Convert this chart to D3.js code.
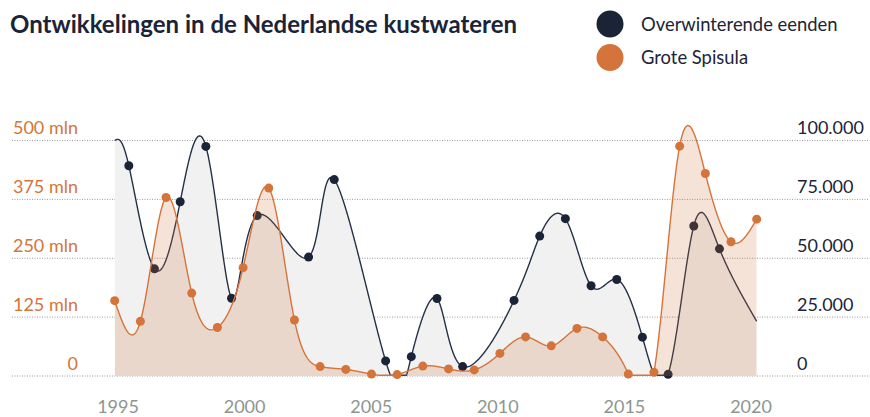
<!DOCTYPE html>
<html>
<head>
<meta charset="utf-8">
<script src="https://cdn.jsdelivr.net/npm/d3@7/dist/d3.min.js"></script>
<style>
  body { margin: 0; background: #fff; }
  svg { font-family: Lato, 'Open Sans', sans-serif; }
</style>
</head>
<body>
<svg id="chart" width="870" height="417"></svg>
<script>
// DATA
const titel = 'Ontwikkelingen in de Nederlandse kustwateren'
const reeksNamen = ['Overwinterende eenden', 'Grote Spisula']

// Grote Spisula, biomassa in miljoen (linker as)
const spisulaJaren = [1995, 1996, 1997, 1998, 1999, 2000, 2001, 2002, 2003, 2004, 2005, 2006, 2007,
  2008, 2009, 2010, 2011, 2012, 2013, 2014, 2015, 2016, 2017, 2018, 2019, 2020]
const spisulaMln = [160, 116, 379, 176, 103, 230, 399, 119, 20, 14, 4, 3, 21,
  15, 13, 48, 83, 64, 101, 83, 4, 8, 488, 430, 285, 333]

// Overwinterende eenden, aantallen per winter (rechter as); begin- en eindpunt zonder stip
const eendenJaren = [1995, 1995.55, 1996.55, 1997.55, 1998.55, 1999.55, 2000.55, 2002.55, 2003.55,
  2005.55, 2006.55, 2007.55, 2008.55, 2010.55, 2011.55, 2012.55, 2013.55, 2014.55, 2015.55,
  2016.55, 2017.55, 2018.55, 2020]
const eendenAantal = [100000, 89300, 45500, 74000, 97500, 33000, 68100, 50500, 83400,
  6400, 8200, 32900, 4000, 32100, 59400, 66800, 38300, 41000, 16500,
  700, 63700, 54000, 23200]

const linkerTicks = [0, 125, 250, 375, 500]
const rechterTicks = [0, 25000, 50000, 75000, 100000]
const jaarTicks = [1995, 2000, 2005, 2010, 2015, 2020]

const kleuren = { eenden: '#1b2437', spisula: '#d4743a' }

// SCALES
const x = d3.scaleLinear().domain([1995, 2020]).range([114.7, 756.7])
const xAs = d3.scaleLinear().domain([1995, 2020]).range([117.5, 750.5])
const yLinks = d3.scaleLinear().domain([0, 500]).range([376, 140.5])
const yRechts = d3.scaleLinear().domain([0, 100000]).range([376, 140.5])

const svg = d3.select('#chart')
const nl = d3.formatLocale({ decimal: ',', thousands: '.', grouping: [3], currency: ['€', ''] })
const fmtAantal = nl.format(',')

// GRIDLINES
svg.append('g')
  .selectAll('line')
  .data(linkerTicks)
  .join('line')
  .attr('x1', 12).attr('x2', 868)
  .attr('y1', d => yLinks(d)).attr('y2', d => yLinks(d))
  .attr('stroke', '#9a9a9a')
  .attr('stroke-width', 1)
  .attr('stroke-dasharray', '1,1.5')

// left axis labels
svg.append('g')
  .selectAll('text')
  .data(linkerTicks)
  .join('text')
  .attr('x', 78)
  .attr('y', d => yLinks(d) - 6.5)
  .attr('text-anchor', 'end')
  .attr('font-size', 18)
  .attr('fill', kleuren.spisula)
  .text(d => d === 0 ? '0' : d + ' mln')

// right axis labels
svg.append('g')
  .selectAll('text')
  .data(rechterTicks)
  .join('text')
  .attr('x', 797)
  .attr('y', d => yRechts(d) - 6.5)
  .attr('font-size', 18)
  .attr('fill', kleuren.eenden)
  .text(d => fmtAantal(d))

// bottom axis
const asOnder = svg.append('g')
  .attr('transform', 'translate(0,413)')
  .call(d3.axisBottom(xAs).tickValues(jaarTicks).tickFormat(d3.format('d')).tickSize(0).tickPadding(0))
asOnder.select('.domain').remove()
asOnder.selectAll('text')
  .attr('dy', 0)
  .attr('font-family', 'Lato, sans-serif')
  .attr('font-size', 18)
  .attr('fill', '#8d968f')

// SERIES
const eenden = eendenJaren.map((j, i) => ({ jaar: j, waarde: eendenAantal[i] }))
const spisula = spisulaJaren.map((j, i) => ({ jaar: j, waarde: spisulaMln[i] }))

const vlakEenden = d3.area()
  .x(d => x(d.jaar)).y0(yRechts(0)).y1(d => yRechts(d.waarde))
  .curve(d3.curveNatural)
const lijnEenden = d3.line()
  .x(d => x(d.jaar)).y(d => yRechts(d.waarde))
  .curve(d3.curveNatural)
const vlakSpisula = d3.area()
  .x(d => x(d.jaar)).y0(yLinks(0)).y1(d => yLinks(d.waarde))
  .curve(d3.curveNatural)
const lijnSpisula = d3.line()
  .x(d => x(d.jaar)).y(d => yLinks(d.waarde))
  .curve(d3.curveNatural)

// the spline may swing below zero; keep the stroke on the baseline there
function opBasislijn(d, bodem) {
  const p = svg.append('path').attr('d', d)
  const node = p.node()
  const lengte = node.getTotalLength()
  const punten = []
  for (let s = 0; s <= lengte; s += 0.75) {
    const pt = node.getPointAtLength(s)
    punten.push([pt.x, Math.min(pt.y, bodem)])
  }
  p.remove()
  return d3.line()(punten)
}

svg.append('clipPath').attr('id', 'plot')
  .append('rect')
  .attr('x', x(1995)).attr('y', 100)
  .attr('width', x(2020) - x(1995)).attr('height', yLinks(0) - 100)

const bodem = yLinks(0) - 0.7

svg.append('path')
  .datum(eenden)
  .attr('clip-path', 'url(#plot)')
  .attr('d', vlakEenden)
  .attr('fill', '#f1f1f1')

svg.append('path')
  .attr('d', opBasislijn(lijnEenden(eenden), bodem))
  .attr('fill', 'none')
  .attr('stroke', '#243045')
  .attr('stroke-width', 1.4)

svg.append('g')
  .selectAll('circle')
  .data(eenden.slice(1, -1))
  .join('circle')
  .attr('cx', d => x(d.jaar))
  .attr('cy', d => yRechts(d.waarde))
  .attr('r', 4.5)
  .attr('fill', kleuren.eenden)

svg.append('path')
  .datum(spisula)
  .attr('clip-path', 'url(#plot)')
  .attr('d', vlakSpisula)
  .attr('fill', kleuren.spisula)
  .attr('fill-opacity', 0.2)

svg.append('path')
  .attr('d', opBasislijn(lijnSpisula(spisula), bodem))
  .attr('fill', 'none')
  .attr('stroke', kleuren.spisula)
  .attr('stroke-width', 1.4)

svg.append('g')
  .selectAll('circle')
  .data(spisula)
  .join('circle')
  .attr('cx', d => x(d.jaar))
  .attr('cy', d => yLinks(d.waarde))
  .attr('r', 4.5)
  .attr('fill', kleuren.spisula)

// TITLE & LEGEND
svg.append('text')
  .attr('x', 10).attr('y', 33)
  .attr('font-size', 24)
  .attr('font-weight', 700)
  .attr('fill', kleuren.eenden)
  .text(titel)

const legenda = svg.append('g')
  .selectAll('g')
  .data(reeksNamen)
  .join('g')
  .attr('transform', (d, i) => `translate(610,${24 + i * 33.5})`)
legenda.append('circle')
  .attr('r', 13.5)
  .attr('fill', (d, i) => i === 0 ? kleuren.eenden : kleuren.spisula)
legenda.append('text')
  .attr('x', 31).attr('y', 6.5)
  .attr('font-size', 18.4)
  .attr('fill', kleuren.eenden)
  .text(d => d)
</script>
</body>
</html>
